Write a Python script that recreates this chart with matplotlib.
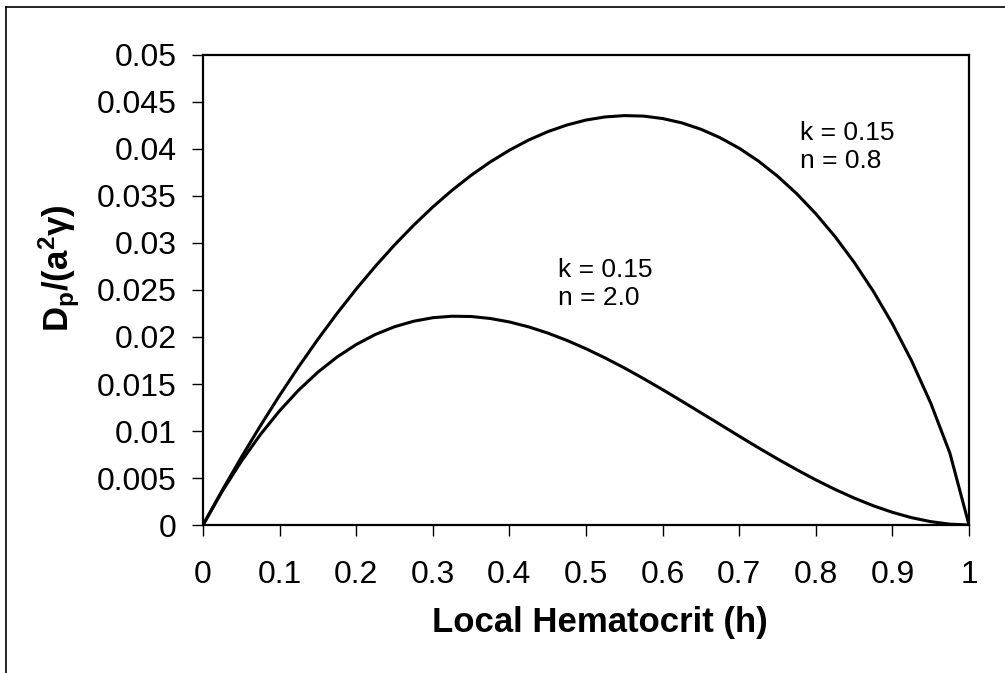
import numpy as np
import matplotlib
matplotlib.use('Agg')
import matplotlib.pyplot as plt
from matplotlib.lines import Line2D
from matplotlib.ticker import FormatStrFormatter

plt.rcParams['font.family'] = ['Liberation Sans', 'DejaVu Sans']
plt.rcParams['mathtext.fontset'] = 'custom'
plt.rcParams['mathtext.rm'] = 'Liberation Sans'
plt.rcParams['mathtext.bf'] = 'Liberation Sans:bold'
plt.rcParams['mathtext.it'] = 'Liberation Sans:italic'

# local hematocrit, every 0.025
h = [0.0, 0.025, 0.05, 0.075, 0.1, 0.125, 0.15, 0.175, 0.2, 0.225, 0.25,
     0.275, 0.3, 0.325, 0.35, 0.375, 0.4, 0.425, 0.45, 0.475, 0.5,
     0.525, 0.55, 0.575, 0.6, 0.625, 0.65, 0.675, 0.7, 0.725, 0.75,
     0.775, 0.8, 0.825, 0.85, 0.875, 0.9, 0.925, 0.95, 0.975, 1.0]

# k = 0.15, n = 0.8
dp_n08 = [0.0, 0.00368, 0.00720, 0.01057, 0.01379, 0.01685, 0.01976, 0.02251,
          0.02510, 0.02752, 0.02979, 0.03189, 0.03383, 0.03560, 0.03720, 0.03862,
          0.03987, 0.04095, 0.04184, 0.04255, 0.04308, 0.04341, 0.04355, 0.04350,
          0.04324, 0.04278, 0.04210, 0.04120, 0.04008, 0.03872, 0.03711, 0.03525,
          0.03311, 0.03069, 0.02795, 0.02487, 0.02140, 0.01747, 0.01297, 0.00765, 0.0]

# k = 0.15, n = 2.0
dp_n20 = [0.0, 0.00357, 0.00677, 0.00963, 0.01215, 0.01436, 0.01626, 0.01787,
          0.01920, 0.02027, 0.02109, 0.02168, 0.02205, 0.02221, 0.02218, 0.02197,
          0.02160, 0.02108, 0.02042, 0.01964, 0.01875, 0.01777, 0.01671, 0.01558,
          0.01440, 0.01318, 0.01194, 0.01070, 0.00945, 0.00822, 0.00703, 0.00589,
          0.00480, 0.00379, 0.00287, 0.00205, 0.00135, 0.00078, 0.00036, 0.00009, 0.0]

fig = plt.figure(figsize=(10.05, 6.73), dpi=100)
ax = fig.add_axes([0.202, 0.2199, 0.7622, 0.6984])

ax.plot(h, dp_n08, color='black', lw=2.2, solid_joinstyle='round')
ax.plot(h, dp_n20, color='black', lw=2.2, solid_joinstyle='round')

ax.set_xlim(0, 1)
ax.set_ylim(0, 0.05)
ax.set_xticks(np.arange(0, 1.01, 0.1))
ax.set_yticks(np.arange(0, 0.0501, 0.005))
ax.xaxis.set_major_formatter(FormatStrFormatter('%g'))
ax.yaxis.set_major_formatter(FormatStrFormatter('%g'))
ax.tick_params(axis='both', direction='out', length=8, width=1, labelsize=23)
ax.tick_params(axis='y', pad=11)
ax.tick_params(axis='x', pad=17)
for s in ax.spines.values():
    s.set_linewidth(1.6)

ax.set_xlabel('Local Hematocrit (h)', fontsize=25, fontweight='bold')
ax.xaxis.set_label_coords(0.518, -0.172)
ax.set_ylabel(r'D$_\mathbf{p}$/(a$^\mathbf{2}$γ)', fontsize=25, fontweight='bold')
ax.yaxis.set_label_coords(-0.158, 0.547)

ax.text(0.779, 0.0380, 'k = 0.15\nn = 0.8', fontsize=19, va='baseline', ha='left',
        linespacing=1.2)
ax.text(0.4635, 0.0234, 'k = 0.15\nn = 2.0', fontsize=19, va='baseline', ha='left',
        linespacing=1.2)

# outer chart border (cut off at right and bottom)
fig.add_artist(Line2D([0.006, 0.006], [0.0, 0.9896], color='black', lw=1.2))
fig.add_artist(Line2D([0.006, 1.0], [0.9896, 0.9896], color='black', lw=1.2))

fig.savefig('out.png', dpi=100)
